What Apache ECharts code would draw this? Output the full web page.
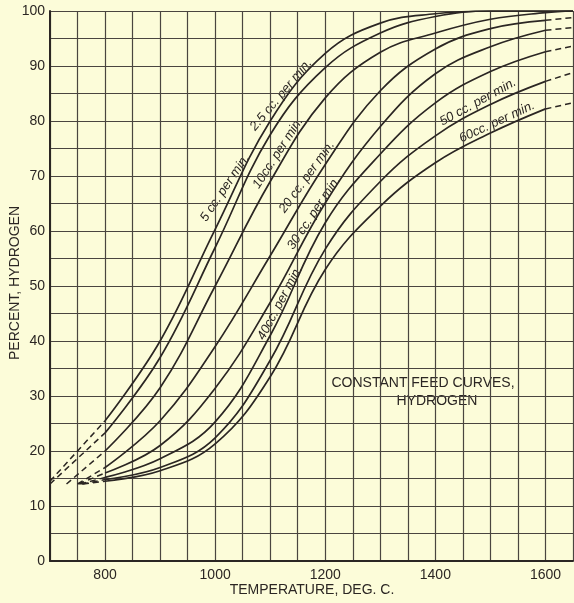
<!DOCTYPE html>
<html>
<head>
<meta charset="utf-8">
<script src="https://cdn.jsdelivr.net/npm/echarts@6/dist/echarts.min.js"></script>
<style>
  html, body { margin: 0; padding: 0; background: #fcfcd9; }
  #chart { width: 574px; height: 603px; }
</style>
</head>
<body>
<div id="chart"></div>
<script>
// temperatures (deg C) where the curves were read
var temps = [800, 900, 1000, 1100, 1200, 1300, 1400, 1500, 1600];
var feeds = ['2.5', '5', '10', '20', '30', '40', '50', '60'];

// percent hydrogen per feed rate, read at the temps above
var cc2_5 = [25.5, 40, 60.3, 80, 92.3, 97.8, 99.5, 100, 100];
var cc5   = [23.3, 37, 57, 77.5, 89.7, 96, 99, 100, 100];
var cc10  = [20, 31.5, 50, 69, 84.2, 92.5, 96, 98.5, 99.7];
var cc20  = [17, 25.5, 39, 55.5, 72.1, 85.5, 93.1, 96.8, 98.3];
var cc30  = [16, 21, 31.4, 47, 65.1, 79, 88.6, 93.5, 96.5];
var cc40  = [15.2, 18.6, 25.3, 41, 61.5, 74, 83.3, 89, 92.6];
var cc50  = [14.8, 17, 22.4, 36.5, 56.7, 69, 77.3, 83, 87.2];
var cc60  = [14.5, 16.4, 21.3, 33.5, 53, 64.5, 72.4, 77.8, 82.2];
var curves = [cc2_5, cc5, cc10, cc20, cc30, cc40, cc50, cc60];

// dashed extrapolated ends
var startT = [700, 700, 730, 750, 752, 755, 758, 760];
var startP = [14.5, 14, 14, 14, 14, 14, 14, 14];
var endT = 1650;
var endP = [100, 100, 100, 98.8, 97, 93.6, 88.8, 83.3];

var ink = '#2b2623';
var series = [];
curves.forEach(function (vals, i) {
  var pts = temps.map(function (t, j) { return [t, vals[j]]; });
  if (i < 3) pts.push([endT, endP[i]]);
  series.push({
    name: feeds[i] + ' cc. per min.',
    type: 'line',
    data: pts,
    smooth: 0.4,
    showSymbol: false,
    lineStyle: { color: ink, width: 1.7 },
    silent: true
  });
  series.push({
    type: 'line',
    data: [[startT[i], startP[i]], [800, vals[0]]],
    showSymbol: false,
    lineStyle: { color: ink, width: 1.5, type: [6, 4] },
    silent: true
  });
  if (i >= 3) {
    series.push({
      type: 'line',
      data: [[1600, vals[vals.length - 1]], [endT, endP[i]]],
      showSymbol: false,
      lineStyle: { color: ink, width: 1.5, type: [6, 4] },
      silent: true
    });
  }
});

// curve labels: [text, x, y, angle]
var tags = [
  ['2.5 cc. per min.', 281, 95, 50],
  ['5 cc. per min.', 225, 188, 56],
  ['10cc. per min.', 278, 153, 57],
  ['20 cc. per min.', 307, 177, 54],
  ['30 cc. per min.', 314, 213, 56],
  ['40cc. per min.', 280, 303, 62],
  ['50 cc. per min.', 478, 102, 29],
  ['60cc. per min.', 497, 122, 25]
];
var graphics = tags.map(function (t) {
  return {
    type: 'text', x: t[1], y: t[2], rotation: t[3] * Math.PI / 180,
    style: {
      text: t[0], fill: ink, align: 'center', verticalAlign: 'middle',
      font: 'italic 13px "Liberation Sans"'
    }
  };
});
graphics.push(
  { type: 'text', x: 423, y: 383, style: { text: 'CONSTANT FEED CURVES,', fill: ink, align: 'center', verticalAlign: 'middle', font: '14px "Liberation Sans"' } },
  { type: 'text', x: 437, y: 401, style: { text: 'HYDROGEN', fill: ink, align: 'center', verticalAlign: 'middle', font: '14px "Liberation Sans"' } },
  { type: 'text', x: 15, y: 283, rotation: Math.PI / 2, style: { text: 'PERCENT, HYDROGEN', fill: ink, align: 'center', verticalAlign: 'middle', font: '14px "Liberation Sans"' } },
  { type: 'text', x: 312, y: 590, style: { text: 'TEMPERATURE, DEG. C.', fill: ink, align: 'center', verticalAlign: 'middle', font: '14px "Liberation Sans"' } }
);

var myChart = echarts.init(document.getElementById('chart'));
myChart.setOption({
  backgroundColor: '#fcfcd9',
  animation: false,
  grid: { left: 50, right: 1, top: 11, bottom: 42, outerBoundsMode: 'none' },
  xAxis: {
    type: 'value', min: 700, max: 1650, interval: 50,
    axisLine: { show: true, lineStyle: { color: ink, width: 2 } },
    axisTick: { show: false },
    axisLabel: {
      color: ink, fontSize: 14, fontFamily: 'Liberation Sans', margin: 7,
      formatter: function (v) { return v % 200 === 0 ? String(v) : ''; }
    },
    splitLine: { show: true, lineStyle: { color: '#4a4540', width: 1.2 } }
  },
  yAxis: {
    type: 'value', min: 0, max: 100, interval: 5,
    axisLine: { show: true, lineStyle: { color: ink, width: 2 } },
    axisTick: { show: false },
    axisLabel: {
      color: ink, fontSize: 14, fontFamily: 'Liberation Sans', margin: 5,
      formatter: function (v) { return v % 10 === 0 ? String(v) : ''; }
    },
    splitLine: { show: true, lineStyle: { color: '#4a4540', width: 1.2 } }
  },
  graphic: graphics,
  series: series
});
</script>
</body>
</html>
